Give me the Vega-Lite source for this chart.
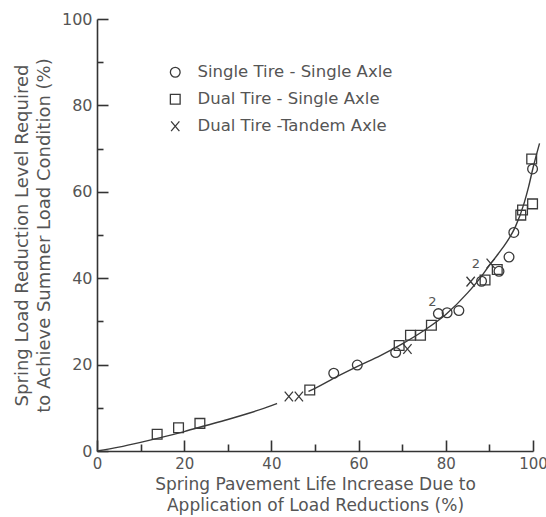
{
  "$schema": "https://vega.github.io/schema/vega-lite/v6.json",
  "width": 436,
  "height": 432,
  "autosize": {"type": "none"},
  "padding": {"left": 97, "top": 19, "right": 13, "bottom": 66},
  "background": "white",
  "config": {
    "view": {"stroke": null},
    "font": "DejaVu Sans"
  },
  "datasets": {
    "curve": [
      {"x": 0, "y": 0, "seg": "a"},
      {"x": 5, "y": 0.9, "seg": "a"},
      {"x": 10, "y": 2.0, "seg": "a"},
      {"x": 15, "y": 3.2, "seg": "a"},
      {"x": 20, "y": 4.5, "seg": "a"},
      {"x": 25, "y": 5.9, "seg": "a"},
      {"x": 30, "y": 7.3, "seg": "a"},
      {"x": 35, "y": 8.8, "seg": "a"},
      {"x": 40, "y": 10.5, "seg": "a"},
      {"x": 41.3, "y": 11.0, "seg": "a"},
      {"x": 48.5, "y": 13.8, "seg": "b"},
      {"x": 50, "y": 14.5, "seg": "b"},
      {"x": 55, "y": 17.2, "seg": "b"},
      {"x": 60, "y": 19.7, "seg": "b"},
      {"x": 65, "y": 22.1, "seg": "b"},
      {"x": 70, "y": 24.8, "seg": "b"},
      {"x": 75, "y": 27.9, "seg": "b"},
      {"x": 80, "y": 31.6, "seg": "b"},
      {"x": 85, "y": 36.6, "seg": "b"},
      {"x": 88, "y": 40.2, "seg": "b"},
      {"x": 90, "y": 43.0, "seg": "b"},
      {"x": 92, "y": 45.6, "seg": "b"},
      {"x": 94, "y": 48.4, "seg": "b"},
      {"x": 96, "y": 52.0, "seg": "b"},
      {"x": 98, "y": 57.5, "seg": "b"},
      {"x": 99, "y": 61.2, "seg": "b"},
      {"x": 100, "y": 65.5, "seg": "b"},
      {"x": 101.5, "y": 71.2, "seg": "b"}
    ],
    "tests": [
      {"x": 54.3, "y": 18.0, "type": "Single Tire - Single Axle"},
      {"x": 59.7, "y": 19.9, "type": "Single Tire - Single Axle"},
      {"x": 68.5, "y": 22.8, "type": "Single Tire - Single Axle"},
      {"x": 78.3, "y": 31.8, "type": "Single Tire - Single Axle"},
      {"x": 80.3, "y": 32.0, "type": "Single Tire - Single Axle"},
      {"x": 83.0, "y": 32.5, "type": "Single Tire - Single Axle"},
      {"x": 88.2, "y": 39.3, "type": "Single Tire - Single Axle"},
      {"x": 92.2, "y": 41.6, "type": "Single Tire - Single Axle"},
      {"x": 94.5, "y": 44.9, "type": "Single Tire - Single Axle"},
      {"x": 95.6, "y": 50.6, "type": "Single Tire - Single Axle"},
      {"x": 99.9, "y": 65.3, "type": "Single Tire - Single Axle"},
      {"x": 13.8, "y": 3.9, "type": "Dual Tire - Single Axle"},
      {"x": 18.7, "y": 5.4, "type": "Dual Tire - Single Axle"},
      {"x": 23.6, "y": 6.4, "type": "Dual Tire - Single Axle"},
      {"x": 48.8, "y": 14.1, "type": "Dual Tire - Single Axle"},
      {"x": 69.3, "y": 24.4, "type": "Dual Tire - Single Axle"},
      {"x": 71.9, "y": 26.8, "type": "Dual Tire - Single Axle"},
      {"x": 74.2, "y": 26.8, "type": "Dual Tire - Single Axle"},
      {"x": 76.7, "y": 29.1, "type": "Dual Tire - Single Axle"},
      {"x": 89.0, "y": 39.6, "type": "Dual Tire - Single Axle"},
      {"x": 91.8, "y": 42.0, "type": "Dual Tire - Single Axle"},
      {"x": 97.2, "y": 54.6, "type": "Dual Tire - Single Axle"},
      {"x": 97.6, "y": 55.8, "type": "Dual Tire - Single Axle"},
      {"x": 99.9, "y": 57.2, "type": "Dual Tire - Single Axle"},
      {"x": 99.7, "y": 67.6, "type": "Dual Tire - Single Axle"},
      {"x": 44.0, "y": 12.6, "type": "Dual Tire -Tandem Axle"},
      {"x": 46.3, "y": 12.6, "type": "Dual Tire -Tandem Axle"},
      {"x": 71.2, "y": 23.6, "type": "Dual Tire -Tandem Axle"},
      {"x": 85.7, "y": 39.2, "type": "Dual Tire -Tandem Axle"},
      {"x": 90.3, "y": 43.4, "type": "Dual Tire -Tandem Axle"}
    ],
    "notes": [
      {"x": 76.9, "y": 34.5, "label": "2"},
      {"x": 86.9, "y": 43.4, "label": "2"}
    ]
  },
  "encoding": {
    "x": {
      "field": "x",
      "type": "quantitative",
      "scale": {"domain": [0, 100], "nice": false},
      "axis": {
        "values": [0, 10, 20, 30, 40, 50, 60, 70, 80, 90, 100],
        "labelExpr": "datum.value % 20 === 0 ? datum.label : ''",
        "tickSize": {"condition": {"test": "datum.value % 20 === 0", "value": -11}, "value": -7},
        "grid": false,
        "domainColor": "#333333",
        "domainWidth": 1.6,
        "tickColor": "#333333",
        "tickWidth": 1.6,
        "labelFontSize": 15,
        "labelColor": "#555555",
        "labelPadding": 16,
        "labelFlush": false,
        "labelOverlap": false,
        "title": ["Spring Pavement Life Increase Due to", "Application of Load Reductions (%)"],
        "titleFontSize": 17,
        "titleFontWeight": "normal",
        "titleColor": "#555555",
        "titleLineHeight": 21,
        "titlePadding": 1
      }
    },
    "y": {
      "field": "y",
      "type": "quantitative",
      "scale": {"domain": [0, 100], "nice": false},
      "axis": {
        "values": [0, 10, 20, 30, 40, 50, 60, 70, 80, 90, 100],
        "labelExpr": "datum.value % 20 === 0 ? datum.label : ''",
        "tickSize": {"condition": {"test": "datum.value % 20 === 0", "value": -11}, "value": -6},
        "grid": false,
        "domainColor": "#333333",
        "domainWidth": 1.6,
        "tickColor": "#333333",
        "tickWidth": 1.6,
        "labelFontSize": 16,
        "labelColor": "#555555",
        "labelPadding": 16,
        "labelFlush": false,
        "labelOverlap": false,
        "title": ["Spring Load Reduction Level Required", "to Achieve Summer Load Condition (%)"],
        "titleFontSize": 18,
        "titleFontWeight": "normal",
        "titleColor": "#555555",
        "titleLineHeight": 22,
        "titlePadding": 8
      }
    }
  },
  "layer": [
    {
      "data": {"name": "curve"},
      "mark": {"type": "line", "color": "#3a3a3a", "strokeWidth": 1.4, "interpolate": "monotone"},
      "encoding": {"detail": {"field": "seg", "type": "nominal"}}
    },
    {
      "data": {"name": "tests"},
      "mark": {"type": "point", "filled": false, "color": "#3a3a3a", "strokeWidth": 1.3, "size": 95, "opacity": 1},
      "encoding": {
        "shape": {
          "field": "type",
          "type": "nominal",
          "scale": {
            "domain": ["Single Tire - Single Axle", "Dual Tire - Single Axle", "Dual Tire -Tandem Axle"],
            "range": ["circle", "square", "M-0.85,-1L0.85,1M-0.85,1L0.85,-1"]
          },
          "legend": {
            "orient": "none",
            "legendX": 70,
            "legendY": 45,
            "title": null,
            "labelFontSize": 16.5,
            "labelColor": "#555555",
            "labelOffset": 14,
            "labelLimit": 400,
            "rowPadding": 10,
            "symbolSize": 95,
            "symbolStrokeWidth": 1.3,
            "symbolStrokeColor": "#3a3a3a"
          }
        }
      }
    },
    {
      "data": {"name": "notes"},
      "mark": {"type": "text", "fontSize": 13, "color": "#555555"},
      "encoding": {"text": {"field": "label"}}
    }
  ]
}
